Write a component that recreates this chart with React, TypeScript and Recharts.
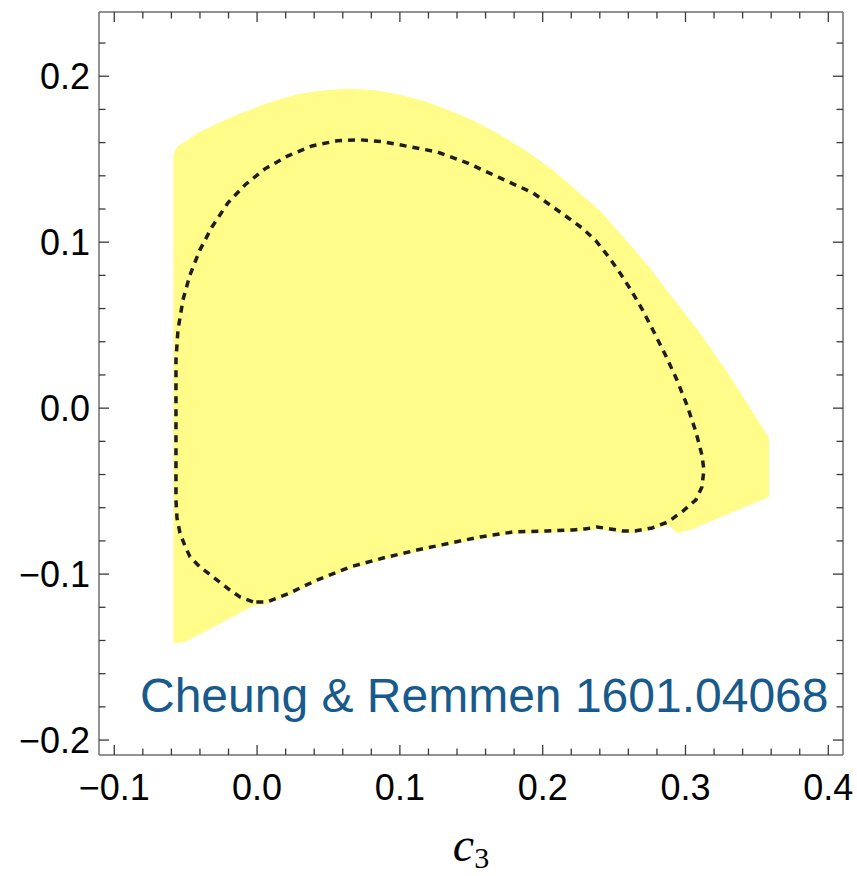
import { ScatterChart, Scatter, XAxis, YAxis } from 'recharts';

// outer yellow region (c3, second coupling), traced clockwise from top-left
const regionX = [
  -0.0587, -0.0563, -0.04, -0.0281, -0.0169, -0.005, 0.0069, 0.0181, 0.03, 0.0475,
  0.0651, 0.0826, 0.1001, 0.1176, 0.1351, 0.1526, 0.1701, 0.1876, 0.2051, 0.2226,
  0.2401, 0.2576, 0.2751, 0.2905, 0.3102, 0.3277, 0.3431, 0.3585, 0.3585, 0.3032,
  0.2941, 0.2877, 0.2765, 0.2646, 0.2563, 0.2472, 0.2381, 0.2297, 0.2213, 0.2031,
  0.1793, 0.1561, 0.1351, 0.112, 0.0882, 0.0651, 0.042, 0.03, 0.023, 0.0139,
  0.0069, -0.0029, -0.0504, -0.0587,
];
const regionY = [
  0.1526, 0.1574, 0.1665, 0.1713, 0.1758, 0.1797, 0.1837, 0.1867, 0.1894, 0.1915,
  0.1924, 0.1915, 0.1888, 0.1849, 0.1794, 0.1728, 0.1647, 0.1556, 0.1448, 0.1321,
  0.1189, 0.102, 0.0845, 0.067, 0.0453, 0.0236, 0.0031, -0.018, -0.0535, -0.0734,
  -0.0752, -0.0704, -0.0734, -0.0752, -0.0752, -0.074, -0.0728, -0.074, -0.0746, -0.0752,
  -0.0758, -0.0788, -0.0825, -0.0867, -0.0915, -0.0969, -0.1048, -0.1096, -0.1126, -0.1156,
  -0.118, -0.1192, -0.1409, -0.1417,
];

// dotted inner contour, clockwise from its lowest point
const contourX = [
  -0.0029, -0.012, -0.019, -0.0309, -0.04, -0.047, -0.0505, -0.054, -0.0561, -0.0568,
  -0.0568, -0.0568, -0.0568, -0.0554, -0.0519, -0.047, -0.04, -0.0316, -0.0204, -0.0085,
  0.0055, 0.0216, 0.0384, 0.056, 0.0721, 0.0882, 0.1071, 0.126, 0.147, 0.1701,
  0.1932, 0.217, 0.2275, 0.2373, 0.2457, 0.2541, 0.2618, 0.2695, 0.2779, 0.2863,
  0.294, 0.301, 0.3073, 0.3115, 0.3129, 0.3115, 0.3073, 0.2982, 0.2877, 0.2765,
  0.2646, 0.2563, 0.2472, 0.2381, 0.2297, 0.2213, 0.2031, 0.1793, 0.1561, 0.1351,
  0.112, 0.0882, 0.0651, 0.042, 0.03, 0.023, 0.0139, 0.0069, -0.0029,
];
const contourY = [
  -0.1168, -0.1138, -0.1096, -0.1017, -0.0957, -0.0896, -0.083, -0.0752, -0.0662, -0.0553,
  -0.0312, 0.0049, 0.029, 0.0471, 0.0652, 0.0803, 0.0954, 0.1092, 0.1237, 0.1345,
  0.1442, 0.152, 0.158, 0.1611, 0.1617, 0.1605, 0.1575, 0.1544, 0.1478, 0.1387,
  0.1297, 0.1152, 0.1086, 0.1008, 0.0917, 0.0815, 0.0712, 0.0598, 0.0459, 0.0314,
  0.017, 0.0019, -0.0143, -0.0282, -0.0372, -0.0475, -0.0553, -0.062, -0.0686, -0.0722,
  -0.074, -0.074, -0.0728, -0.0716, -0.0728, -0.0734, -0.074, -0.0746, -0.0776, -0.0813,
  -0.0855, -0.0903, -0.0957, -0.1036, -0.1084, -0.1114, -0.1144, -0.1168, -0.1168,
];

const xTicks = [
  -0.1, -0.08, -0.06, -0.04, -0.02, 0, 0.02, 0.04, 0.06, 0.08, 0.1, 0.12, 0.14,
  0.16, 0.18, 0.2, 0.22, 0.24, 0.26, 0.28, 0.3, 0.32, 0.34, 0.36, 0.38, 0.4,
];
const yTicks = [
  -0.2, -0.18, -0.16, -0.14, -0.12, -0.1, -0.08, -0.06, -0.04, -0.02, 0,
  0.02, 0.04, 0.06, 0.08, 0.1, 0.12, 0.14, 0.16, 0.18, 0.2, 0.22,
];

const region = regionX.map((x, i) => ({ x, y: regionY[i] }));
const contour = contourX.map((x, i) => ({ x, y: contourY[i] }));

const FRAME = '#6e6e6e';
const TICK = '#3a3a3a';
const FONT = '"Liberation Sans", Arial, Helvetica, sans-serif';
const MAJOR = 10;
const MINOR = 6.5;

const isMajor = (v: number) => Math.abs(v * 10 - Math.round(v * 10)) < 1e-6;
const fmt = (v: number) => (v < -1e-9 ? '\u2212' : '') + Math.abs(v).toFixed(1);

const NoDot = () => <g />;

const BottomTick = ({ x, y, payload }: any) => {
  const major = isMajor(payload.value);
  return (
    <g>
      <line x1={x} y1={y} x2={x} y2={y - (major ? MAJOR : MINOR)} stroke={TICK} strokeWidth={1.3} />
      {major && (
        <text x={x} y={y + 45} textAnchor="middle" fontSize={36} fontFamily={FONT} fill="#000">
          {fmt(payload.value)}
        </text>
      )}
    </g>
  );
};

const TopTick = ({ x, y, payload }: any) => (
  <line x1={x} y1={y} x2={x} y2={y + (isMajor(payload.value) ? MAJOR : MINOR)} stroke={TICK} strokeWidth={1.3} />
);

const LeftTick = ({ x, y, payload }: any) => {
  const major = isMajor(payload.value);
  return (
    <g>
      <line x1={x} y1={y} x2={x + (major ? MAJOR : MINOR)} y2={y} stroke={TICK} strokeWidth={1.3} />
      {major && (
        <text x={x - 9} y={y} dy="0.36em" textAnchor="end" fontSize={36} fontFamily={FONT} fill="#000">
          {fmt(payload.value)}
        </text>
      )}
    </g>
  );
};

const RightTick = ({ x, y, payload }: any) => (
  <line x1={x} y1={y} x2={x - (isMajor(payload.value) ? MAJOR : MINOR)} y2={y} stroke={TICK} strokeWidth={1.3} />
);

const C3Label = ({ viewBox }: any) => {
  const { x, y, width } = viewBox;
  return (
    <text x={x + width / 2} y={y + 106} textAnchor="middle" fontFamily='"Liberation Serif", "Times New Roman", serif' fill="#000">
      <tspan fontStyle="italic" fontSize={48}>c</tspan>
      <tspan fontSize={30} dy={7}>3</tspan>
    </text>
  );
};

const X_DOMAIN: [number, number] = [-0.1107, 0.4103];
const Y_DOMAIN: [number, number] = [-0.209, 0.2387];

export default function App() {
  return (
    <div style={{ position: 'absolute', left: 0, top: 0, width: 857, height: 876, background: '#fff' }}>
      <ScatterChart width={857} height={876} margin={{ top: 0, right: 0, bottom: 0, left: 0 }}>
        <XAxis
          xAxisId="b"
          type="number"
          dataKey="x"
          orientation="bottom"
          domain={X_DOMAIN}
          allowDataOverflow
          ticks={xTicks}
          interval={0}
          height={121}
          tickSize={0}
          tickMargin={0}
          tickLine={false}
          tick={<BottomTick />}
          axisLine={{ stroke: FRAME, strokeWidth: 1.5 }}
          label={<C3Label />}
        />
        <XAxis
          xAxisId="t"
          type="number"
          dataKey="x"
          orientation="top"
          domain={X_DOMAIN}
          allowDataOverflow
          ticks={xTicks}
          interval={0}
          height={12}
          tickSize={0}
          tickMargin={0}
          tickLine={false}
          tick={<TopTick />}
          axisLine={{ stroke: FRAME, strokeWidth: 1.5 }}
        />
        <YAxis
          yAxisId="l"
          type="number"
          dataKey="y"
          orientation="left"
          domain={Y_DOMAIN}
          allowDataOverflow
          ticks={yTicks}
          interval={0}
          width={99}
          tickSize={0}
          tickMargin={0}
          tickLine={false}
          tick={<LeftTick />}
          axisLine={{ stroke: FRAME, strokeWidth: 1.5 }}
        />
        <YAxis
          yAxisId="r"
          type="number"
          dataKey="y"
          orientation="right"
          domain={Y_DOMAIN}
          allowDataOverflow
          ticks={yTicks}
          interval={0}
          width={14}
          tickSize={0}
          tickMargin={0}
          tickLine={false}
          tick={<RightTick />}
          axisLine={{ stroke: FRAME, strokeWidth: 1.5 }}
        />
        <Scatter
          xAxisId="b"
          yAxisId="l"
          data={region}
          shape={<NoDot />}
          line={{ fill: '#fffc8a', stroke: 'none' }}
          lineJointType="linearClosed"
          isAnimationActive={false}
        />
        <Scatter
          xAxisId="t"
          yAxisId="r"
          data={contour}
          shape={<NoDot />}
          line={{ fill: 'none', stroke: '#1e1e1e', strokeWidth: 3.5, strokeDasharray: '7 6' }}
          lineJointType="linear"
          isAnimationActive={false}
        />
      </ScatterChart>
      <svg width={857} height={876} style={{ position: 'absolute', left: 0, top: 0, pointerEvents: 'none' }}>
        <text x={140} y={712} fontSize={48} fontFamily={FONT} fill="#175a8b">
          Cheung &amp; Remmen 1601.04068
        </text>
      </svg>
    </div>
  );
}
